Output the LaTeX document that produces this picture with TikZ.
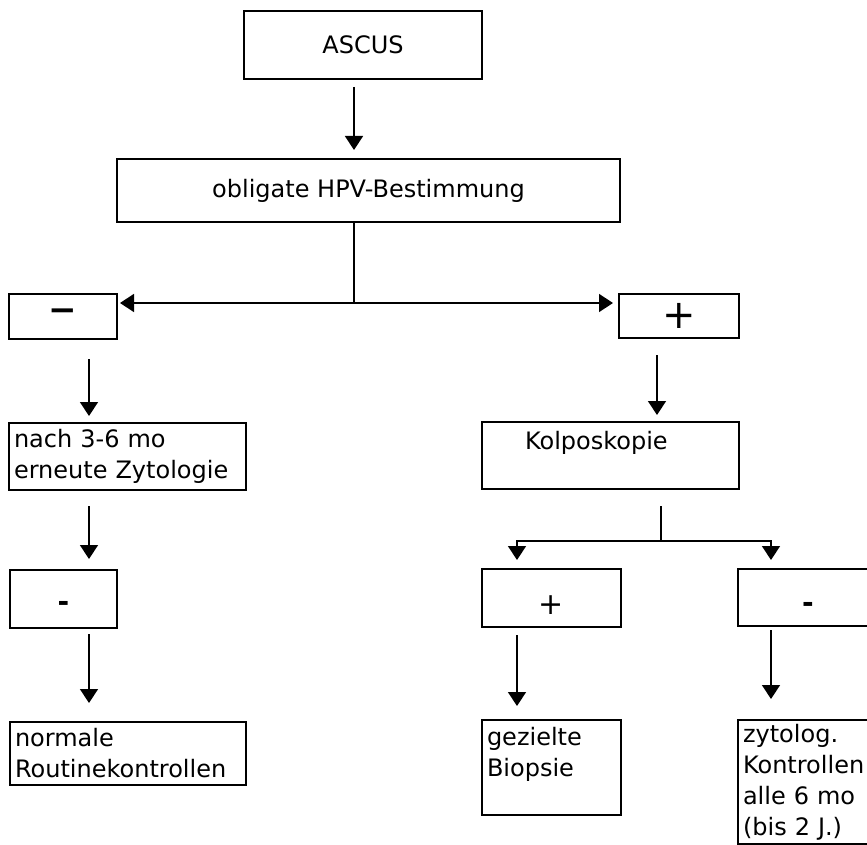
\documentclass[tikz,border=0pt]{standalone}
\usepackage{fontspec}
\setmainfont{DejaVu Sans}
\usetikzlibrary{arrows.meta}

\begin{document}
\begin{tikzpicture}[x=0.5pt, y=-0.5pt,
    box/.style={draw, line width=1pt, anchor=north west, inner xsep=2.5pt, inner ysep=0pt,
      font=\fontsize{12}{15.5}\selectfont},
    txtbox/.style={box, align=left},
    signbox/.style={box, align=center},
    conn/.style={line width=0.75pt},
    arr/.style={conn, -{Triangle[width=9pt,length=7pt]}}]
  \useasboundingbox (0,0) rectangle (867,845);
  \clip (0,0) rectangle (867,845);

  % columns of the connectors
  \coordinate (xa) at (354,0);
  \coordinate (xl) at (89,0);
  \coordinate (xp) at (657,0);
  \coordinate (xk) at (661,0);
  \coordinate (kl) at (517,0);
  \coordinate (kr) at (771,0);
  \coordinate (split) at (354,303);
  \coordinate (ksplit) at (661,541);

  % top
  \node[signbox, minimum width=119pt, minimum height=34pt] (ascus) at (243,10) {ASCUS};
  \node[signbox, minimum width=251.5pt, minimum height=31.5pt] (hpv) at (116,158) {obligate HPV-Bestimmung};

  % HPV result
  \node[box, minimum width=54pt, minimum height=22.5pt, text height=13.8pt, text depth=8.7pt,
    font=\fontsize{17}{17}\bfseries] (neg) at (8,293) {−};
  \node[box, minimum width=60pt, minimum height=22pt, font=\fontsize{20}{20}\selectfont] (pos) at (618,293) {+};

  % left branch
  \node[txtbox, text width=113.5pt, minimum height=33.5pt] (nach) at (8,422) {nach 3-6 mo\\erneute Zytologie};
  \node[box, minimum width=53.5pt, minimum height=29pt, text height=20.9pt, text depth=8.1pt,
    font=\fontsize{14}{14}\bfseries] (negzwei) at (9,569) {-};
  \node[txtbox, text width=113pt, minimum height=31.5pt] (routine) at (9,721) {normale\\Routinekontrollen};

  % right branch
  \node[txtbox, text width=123.5pt, minimum height=33.5pt] (kolpo) at (481,421) {\hspace*{19pt}Kolposkopie\\\mbox{}};
  \node[box, minimum width=69.5pt, minimum height=29pt, text height=22.7pt, text depth=6.3pt,
    font=\fontsize{15}{15}\selectfont] (bpos) at (481,568) {+};
  \node[box, minimum width=70pt, minimum height=28.5pt, text height=21.9pt, text depth=6.6pt,
    font=\fontsize{14}{14}\bfseries] (bneg) at (737,568) {-};
  \node[txtbox, text width=64.5pt, minimum height=47.5pt] (biopsie) at (481,719) {gezielte\\Biopsie\\\mbox{}};
  \node[txtbox, text width=65pt, minimum height=62pt] (zyto) at (737,719) {zytolog.\\Kontrollen\\alle 6 mo\\(bis 2 J.)};

  % connectors
  \draw[arr, shorten <=3.5pt, shorten >=4pt] (xa |- ascus.south) -- (xa |- hpv.north);
  \draw[conn] (xa |- hpv.south) -- (split);
  \draw[arr, shorten >=1pt] (split) -- (split -| neg.east);
  \draw[arr, shorten >=2.5pt] (split) -- (split -| pos.west);

  \draw[arr, shorten <=9.5pt, shorten >=3pt] (xl |- neg.south) -- (xl |- nach.north);
  \draw[arr, shorten <=7.5pt, shorten >=5pt] (xl |- nach.south) -- (xl |- negzwei.north);
  \draw[arr, shorten <=2.5pt, shorten >=9pt] (xl |- negzwei.south) -- (xl |- routine.north);

  \draw[arr, shorten <=8pt, shorten >=3pt] (xp |- pos.south) -- (xp |- kolpo.north);
  \draw[conn, shorten <=8pt] (xk |- kolpo.south) -- (ksplit);
  \draw[arr, shorten >=4pt] (ksplit) -| (kl |- bpos.north);
  \draw[arr, shorten >=4pt] (ksplit) -| (kr |- bneg.north);
  \draw[arr, shorten <=3.5pt, shorten >=6.5pt] (kl |- bpos.south) -- (kl |- biopsie.north);
  \draw[arr, shorten <=1.5pt, shorten >=10pt] (kr |- bneg.south) -- (kr |- zyto.north);
\end{tikzpicture}
\end{document}
